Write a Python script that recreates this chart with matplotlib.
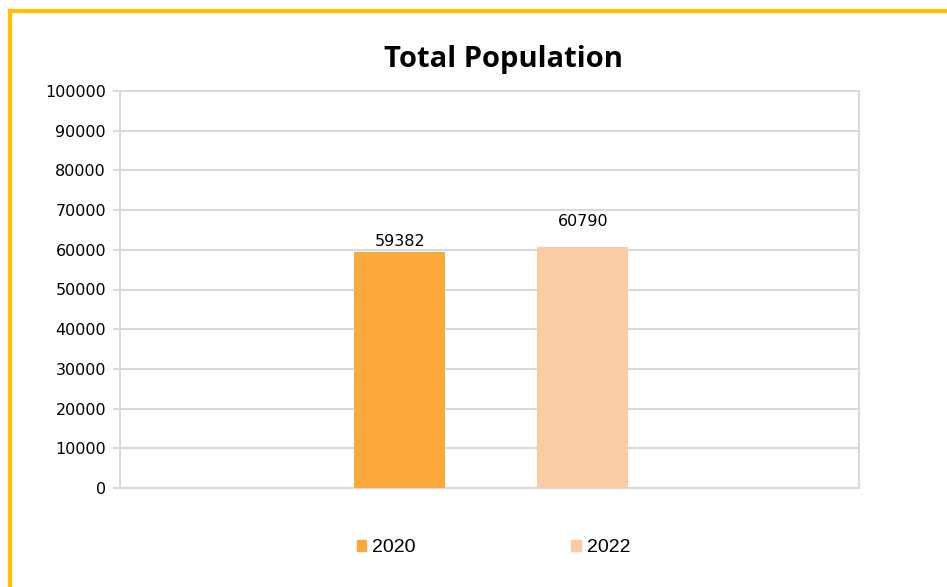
import matplotlib
matplotlib.use("Agg")
import matplotlib.pyplot as plt
from matplotlib.lines import Line2D

series = ["2020", "2022"]
values = [59382, 60790]
colors = ["#FBA93A", "#FBCBA3"]
yticks = [0, 10000, 20000, 30000, 40000, 50000, 60000, 70000, 80000, 90000, 100000]

fig = plt.figure(figsize=(9.47, 5.87), dpi=100)
ax = fig.add_axes([120/947, 1-488/587, (859-120)/947, (488-91)/587])

offsets = [-0.1215, 0.1262]
width = 0.123
for s, v, c, o in zip(series, values, colors, offsets):
    ax.bar(o, v, width=width, color=c, label=s, zorder=3)

label_y = [values[0] + 800, values[1] + 4550]
for v, o, ly in zip(values, offsets, label_y):
    ax.text(o, ly, str(v), ha="center", va="bottom", fontsize=11.5,
            family="DejaVu Sans", color="#000000", zorder=4)

ax.set_xlim(-0.5, 0.5)
ax.set_ylim(0, 100000)
ax.set_yticks(yticks)
ax.set_yticklabels([str(t) for t in yticks], fontsize=11.5, family="DejaVu Sans")
ax.set_xticks([])
ax.grid(axis="y", color="#D9D9D9", linewidth=1.5, zorder=0)
for sp in ax.spines.values():
    sp.set_color("#D9D9D9")
    sp.set_linewidth(1.5)
ax.tick_params(axis="y", length=5, color="#D9D9D9", width=1.5, pad=5, labelcolor="#000000")

fig.text(0.532, 1-60/587, "Total Population", ha="center", va="center",
         fontsize=21, fontweight="bold", family="Open Sans", color="#000000")

# legend
handles = [plt.Rectangle((0, 0), 1, 1, color=c) for c in colors]
fig.legend(handles, series, loc="center", bbox_to_anchor=(0.521, 1-548/587),
           ncol=2, frameon=False, prop={"family": "Liberation Sans", "size": 14},
           handlelength=0.5, handleheight=0.5, handletextpad=0.3, columnspacing=8.0)

# yellow border (top and left)
fig.add_artist(Line2D([9.5/947, 1.0], [1-10.5/587, 1-10.5/587], color="#FFC000",
                      linewidth=3, transform=fig.transFigure))
fig.add_artist(Line2D([9.5/947, 9.5/947], [0, 1-10.5/587], color="#FFC000",
                      linewidth=3, transform=fig.transFigure))

fig.savefig("out.png", dpi=100)
